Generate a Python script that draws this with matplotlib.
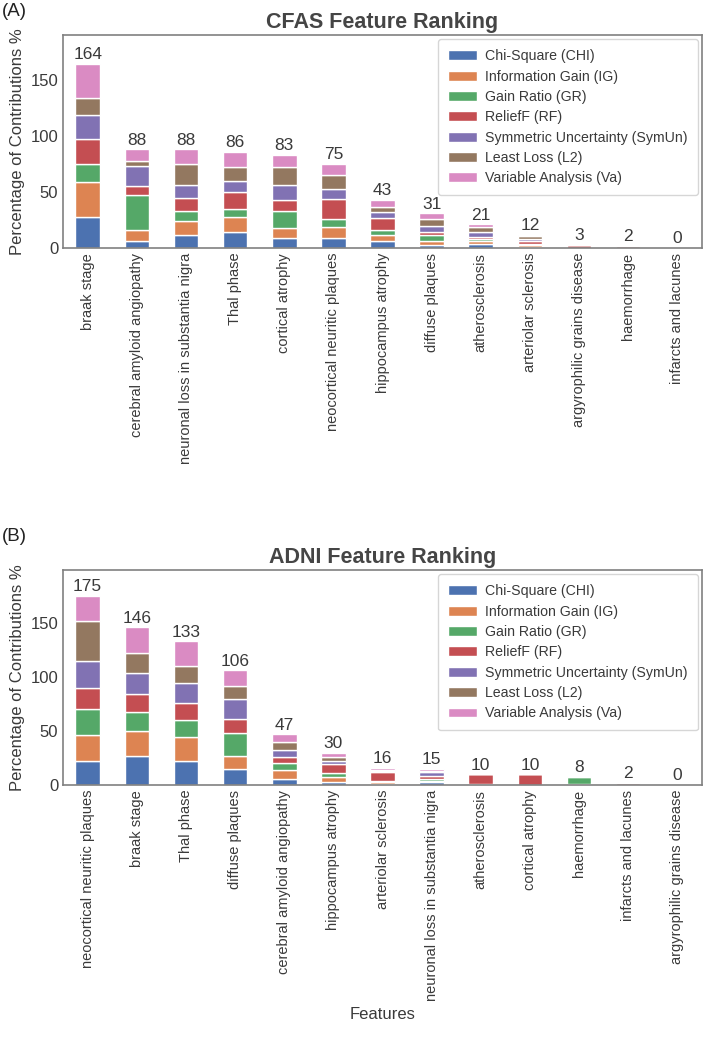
import matplotlib
matplotlib.use("Agg")
import matplotlib.pyplot as plt
import numpy as np

plt.rcParams["font.family"] = ["Liberation Sans", "DejaVu Sans"]

# ─────────────────────────────────────────────
# Data
# ─────────────────────────────────────────────
METHODS = [
    "Chi-Square (CHI)",
    "Information Gain (IG)",
    "Gain Ratio (GR)",
    "ReliefF (RF)",
    "Symmetric Uncertainty (SymUn)",
    "Least Loss (L2)",
    "Variable Analysis (Va)",
]
COLORS = ["#4C72B0", "#DD8452", "#55A868", "#C44E52", "#8172B3", "#937860", "#DA8BC3"]

cfas_features = [
    "braak stage", "cerebral amyloid angiopathy", "neuronal loss in substantia nigra",
    "Thal phase", "cortical atrophy", "neocortical neuritic plaques", "hippocampus atrophy",
    "diffuse plaques", "atherosclerosis", "arteriolar sclerosis",
    "argyrophilic grains disease", "haemorrhage", "infarcts and lacunes",
]
cfas_chi = [28, 6, 12, 14, 9, 9, 6, 3, 4, 1, 0, 0, 0]
cfas_ig = [31, 10, 12, 14, 9, 10, 6, 3, 2, 2, 0, 0, 0]
cfas_gr = [16, 31, 9, 7, 15, 7, 4, 6, 2, 1, 0, 0, 0]
cfas_rf = [22, 8, 12, 15, 10, 18, 11, 2, 2, 2, 3, 2, 0]
cfas_su = [22, 18, 11, 10, 13, 9, 5, 6, 4, 2, 0, 0, 0]
cfas_l2 = [15, 5, 19, 12, 16, 12, 5, 6, 5, 3, 0, 0, 0]
cfas_va = [30, 10, 13, 14, 11, 10, 6, 5, 2, 1, 0, 0, 0]

adni_features = [
    "neocortical neuritic plaques", "braak stage", "Thal phase", "diffuse plaques",
    "cerebral amyloid angiopathy", "hippocampus atrophy", "arteriolar sclerosis",
    "neuronal loss in substantia nigra", "atherosclerosis", "cortical atrophy",
    "haemorrhage", "infarcts and lacunes", "argyrophilic grains disease",
]
adni_chi = [22, 27, 22, 15, 6, 3, 1, 3, 0, 0, 1, 0, 0]
adni_ig = [24, 23, 22, 12, 8, 4, 2, 1, 1, 0, 0, 0, 0]
adni_gr = [24, 18, 16, 21, 6, 4, 1, 2, 0, 0, 6, 0, 0]
adni_rf = [20, 16, 16, 13, 6, 8, 8, 2, 9, 10, 1, 2, 0]
adni_su = [25, 20, 18, 19, 6, 3, 1, 4, 0, 0, 0, 0, 0]
adni_l2 = [37, 18, 16, 12, 8, 4, 1, 1, 0, 0, 0, 0, 0]
adni_va = [23, 24, 23, 14, 7, 4, 2, 2, 0, 0, 0, 0, 0]

TEXT = "#3a3a3a"


def draw_panel(ax, features, series, title, ymax, show_xlabel):
    x = np.arange(len(features))
    bottom = np.zeros(len(features))
    for vals, label, color in zip(series, METHODS, COLORS):
        vals = np.asarray(vals, dtype=float)
        ax.bar(x, vals, 0.5, bottom=bottom, color=color, label=label,
               edgecolor="white", linewidth=1)
        bottom += vals
    for xi, tot in zip(x, bottom):
        ax.text(xi, tot + 1.5, f"{int(tot)}", ha="center", va="bottom",
                fontsize=12.5, color=TEXT)
    ax.set_xlim(-0.5, len(features) - 0.5)
    ax.set_ylim(0, ymax)
    ax.set_yticks([0, 50, 100, 150])
    ax.set_xticks(x)
    ax.set_xticklabels(features, rotation=90, fontsize=10.5, color=TEXT)
    ax.tick_params(axis="y", labelsize=12, labelcolor=TEXT, length=0)
    ax.tick_params(axis="x", length=0)
    ax.set_ylabel("Percentage of Contributions %", fontsize=12, color=TEXT)
    if show_xlabel:
        ax.set_xlabel("Features", fontsize=12, color=TEXT)
    ax.set_title(title, fontsize=15.5, fontweight="bold", color="#454545", pad=5)
    for sp in ax.spines.values():
        sp.set_color("#808080")
        sp.set_linewidth(1.2)
    leg = ax.legend(loc="upper right", fontsize=10.2, frameon=True, fancybox=True,
                    labelspacing=0.45, borderpad=0.7, handletextpad=0.6,
                    borderaxespad=0.3)
    for t in leg.get_texts():
        t.set_color(TEXT)
    leg.get_frame().set_edgecolor("#cccccc")


fig = plt.figure(figsize=(7.09, 10.5), dpi=100)
ax_a = fig.add_axes([0.089, 1 - 248 / 1050, 0.901, 213 / 1050])
ax_b = fig.add_axes([0.089, 1 - 785 / 1050, 0.901, 215 / 1050])

draw_panel(ax_a, cfas_features,
           [cfas_chi, cfas_ig, cfas_gr, cfas_rf, cfas_su, cfas_l2, cfas_va],
           "CFAS Feature Ranking", 190, False)
draw_panel(ax_b, adni_features,
           [adni_chi, adni_ig, adni_gr, adni_rf, adni_su, adni_l2, adni_va],
           "ADNI Feature Ranking", 199, True)

fig.text(0.002, 0.997, "(A)", fontsize=13.5, va="top", ha="left", color="#222222")
fig.text(0.002, 1 - 528 / 1050, "(B)", fontsize=13.5, va="top", ha="left", color="#222222")

fig.savefig("out.png", dpi=100)
